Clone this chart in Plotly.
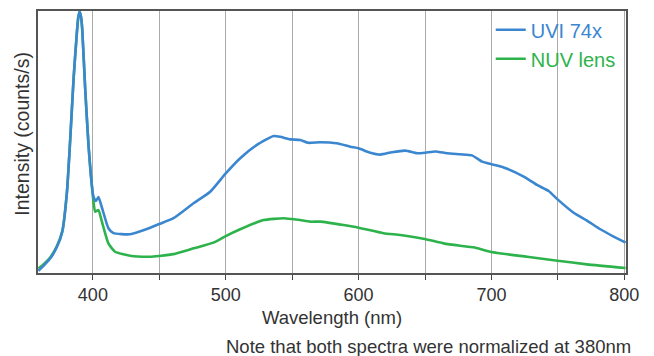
import plotly.graph_objects as go

# Wavelength (nm) and normalized intensity
wl_uvi = [359, 363, 368, 373, 377, 380.5, 383, 385.5, 388, 389, 390, 391, 392, 394.2, 396.7, 399.2, 400.5, 402.2, 404.2,
          406.8, 411.7, 415.5, 428, 440.7, 450, 460.7, 475.8, 488.3, 500, 510.9, 523.5, 536, 541,
          548.6, 556, 562, 571.2, 583.7, 593.8, 600, 608.8, 616.3, 625.1, 635.2, 644, 650.2, 657.8,
          666.6, 676.6, 685.4, 692.9, 700, 709.2, 724.3, 734.3, 743.1, 749.8, 761.9, 771.9, 782, 792, 801]
val_uvi = [0.008, 0.028, 0.056, 0.1, 0.158, 0.31, 0.514, 0.743, 0.92, 0.975, 0.998, 0.98, 0.93, 0.705, 0.489, 0.336, 0.29, 0.275, 0.29,
           0.25, 0.171, 0.152, 0.148, 0.168, 0.187, 0.209, 0.266, 0.31, 0.38, 0.438, 0.489, 0.523, 0.52,
           0.51, 0.508, 0.497, 0.499, 0.495, 0.482, 0.476, 0.459, 0.452, 0.461, 0.467, 0.457, 0.459, 0.464,
           0.457, 0.453, 0.449, 0.425, 0.415, 0.403, 0.368, 0.336, 0.313, 0.281, 0.23, 0.2, 0.167, 0.139, 0.116]

wl_nuv = [359, 363, 368, 373, 377, 380.5, 383, 385.5, 388, 389, 390, 391, 392, 394.2, 396.7, 399.2, 400.5, 401.7, 404.2,
          406.8, 411.7, 416.7, 428, 443, 450, 460.7, 475.8, 490.8, 500, 510.9, 528.5, 543.5, 549.8,
          556, 563.6, 571.2, 588.7, 600, 618.8, 631.4, 649.7, 664, 676.6, 686.6, 700, 726.8, 749.8, 771.9, 801]
val_nuv = [0.017, 0.034, 0.06, 0.104, 0.16, 0.31, 0.514, 0.743, 0.92, 0.975, 0.998, 0.98, 0.93, 0.705, 0.489, 0.336, 0.27, 0.234, 0.24,
           0.196, 0.113, 0.081, 0.066, 0.062, 0.065, 0.072, 0.094, 0.116, 0.141, 0.167, 0.202, 0.209, 0.206,
           0.202, 0.196, 0.196, 0.183, 0.173, 0.152, 0.145, 0.130, 0.113, 0.104, 0.098, 0.08, 0.062, 0.047, 0.033, 0.019]

tick_vals = [400, 450, 500, 550, 600, 650, 700, 750, 800]
tick_text = ["400", "", "500", "", "600", "", "700", "", "800"]

blue = "#3b87cf"
green = "#2eb34c"
font = "Liberation Sans, Arial, sans-serif"

fig = go.Figure()
fig.add_trace(go.Scatter(x=wl_nuv, y=val_nuv, mode="lines",
                         line=dict(color=green, width=2.6, shape="spline", smoothing=0.5),
                         name=f"<span style='color:{green}'>NUV lens</span>", legendrank=2))
fig.add_trace(go.Scatter(x=wl_uvi, y=val_uvi, mode="lines",
                         line=dict(color=blue, width=2.6, shape="spline", smoothing=0.5),
                         name=f"<span style='color:{blue}'>UVI 74x</span>", legendrank=1))

fig.update_layout(
    width=654, height=356,
    margin=dict(l=38, r=28, t=11, b=83, autoexpand=False),
    paper_bgcolor="white", plot_bgcolor="white",
    font=dict(family=font, size=18, color="#333333"),
    showlegend=True,
    legend=dict(x=0.77, y=1.003, xanchor="left", yanchor="top", bgcolor="rgba(0,0,0,0)",
                font=dict(size=20), itemwidth=30, tracegroupgap=0),
    xaxis=dict(range=[358.7, 801.3], tickvals=tick_vals, ticktext=tick_text,
               ticks="outside", ticklen=5, tickcolor="#444444", tickwidth=1,
               showgrid=True, gridcolor="#ababab", gridwidth=1,
               showline=True, linecolor="#555555", linewidth=1.5, mirror=True,
               title=dict(text="Wavelength (nm)", standoff=7, font=dict(size=18.5)), zeroline=False),
    yaxis=dict(range=[0, 1.0], showticklabels=False, ticks="", showgrid=False,
               showline=True, linecolor="#555555", linewidth=1.5, mirror=True, zeroline=False),
    annotations=[
        dict(text="Intensity (counts/s)", xref="paper", yref="paper", textangle=-90,
             x=(21.7 - 38) / 588, y=(273 - 134) / 262, xanchor="center", yanchor="middle",
             showarrow=False, font=dict(size=19.5, color="#333333")),
        dict(text="Note that both spectra were normalized at 380nm", xref="paper", yref="paper",
             x=(633 - 38) / 588, y=(273 - 346) / 262, xanchor="right", yanchor="middle", showarrow=False,
             font=dict(size=18.5, color="#333333"))],
)

fig.write_html("out.html", post_script="document.body.style.margin='0';",
               config={"displayModeBar": False})
